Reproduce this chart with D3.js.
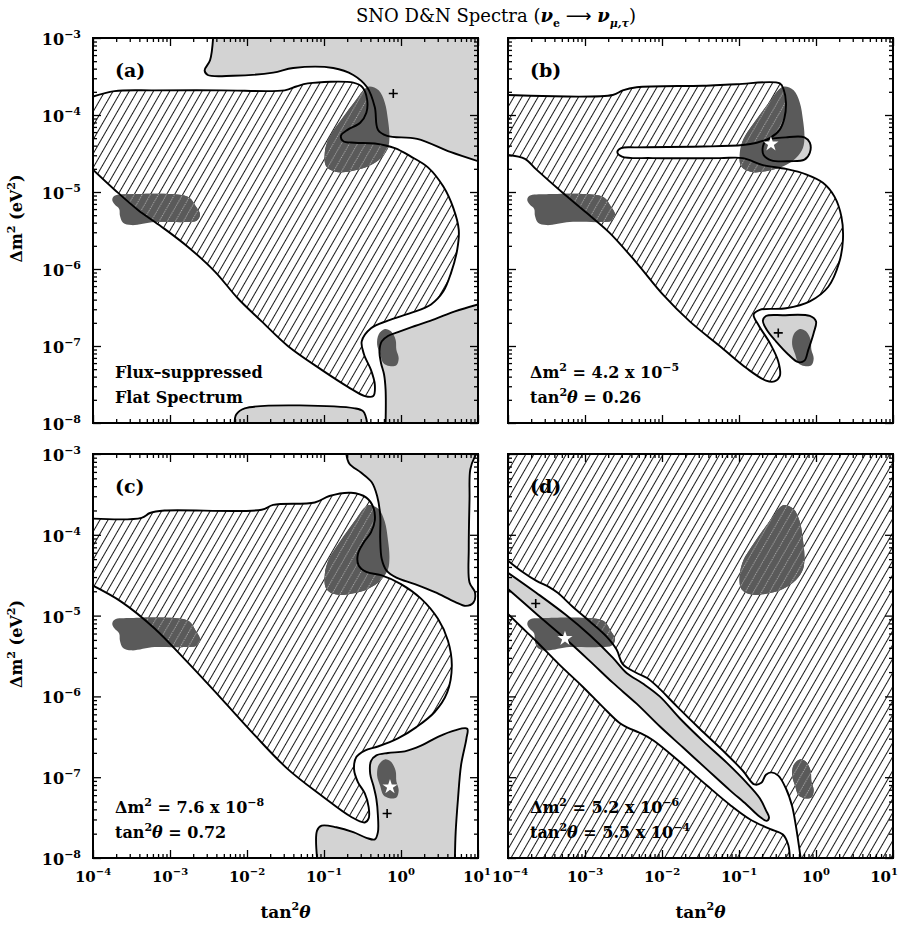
<!DOCTYPE html>
<html>
<head>
<meta charset="utf-8">
<script src="https://cdn.jsdelivr.net/npm/d3@7"></script>
<style>
  body { margin: 0; background: #fff; }
  text { font-family: "DejaVu Serif", serif; fill: #000; }
</style>
</head>
<body>
<svg id="chart" width="899" height="926"></svg>
<script>
// all contour points are [log10 tan^2(theta), log10 dm^2]
const xDecades = [-4, -3, -2, -1, 0, 1];
const yDecades = [-8, -7, -6, -5, -4, -3];

// dark regions (same in every panel)
const lmaBlob = [[-0.41,-3.63],[-0.29,-3.68],[-0.21,-3.84],[-0.17,-4.06],[-0.15,-4.28],[-0.17,-4.43],[-0.26,-4.56],[-0.43,-4.67],[-0.65,-4.73],[-0.84,-4.74],[-0.97,-4.67],[-0.99,-4.49],[-0.94,-4.31],[-0.84,-4.15],[-0.71,-3.97],[-0.58,-3.80],[-0.48,-3.67]];
const smaBlob = [[-3.72,-5.05],[-3.50,-5.03],[-2.85,-5.04],[-2.74,-5.08],[-2.67,-5.18],[-2.61,-5.29],[-2.65,-5.37],[-2.79,-5.39],[-3.20,-5.39],[-3.50,-5.43],[-3.61,-5.40],[-3.65,-5.31],[-3.66,-5.22],[-3.72,-5.16],[-3.75,-5.10]];
const lowBlob = [[-0.21,-6.78],[-0.13,-6.81],[-0.07,-6.92],[-0.06,-7.05],[-0.03,-7.16],[-0.06,-7.25],[-0.15,-7.26],[-0.23,-7.22],[-0.27,-7.11],[-0.31,-6.98],[-0.29,-6.85]];

// panel (a)
const hatchA = [[-4,-3.76],[-3.72,-3.69],[-3.20,-3.68],[-2.33,-3.68],[-1.51,-3.68],[-1.36,-3.63],[-1.21,-3.59],[-0.62,-3.58],[-0.50,-3.64],[-0.44,-3.80],[-0.45,-3.97],[-0.53,-4.10],[-0.69,-4.19],[-0.78,-4.27],[-0.75,-4.34],[-0.60,-4.36],[-0.34,-4.37],[-0.08,-4.43],[0.13,-4.54],[0.35,-4.68],[0.55,-4.93],[0.68,-5.21],[0.75,-5.49],[0.73,-5.75],[0.65,-6.05],[0.55,-6.29],[0.39,-6.46],[0.13,-6.57],[-0.17,-6.67],[-0.39,-6.77],[-0.51,-6.94],[-0.48,-7.11],[-0.39,-7.31],[-0.34,-7.50],[-0.36,-7.65],[-0.47,-7.65],[-0.69,-7.53],[-1.03,-7.31],[-1.47,-7.00],[-1.81,-6.68],[-2.12,-6.38],[-2.42,-6.03],[-2.77,-5.71],[-3.11,-5.45],[-3.42,-5.23],[-3.72,-4.97],[-4,-4.71]];
const grayTopA = [[-2.44,-3],[-2.48,-3.29],[-2.55,-3.42],[-2.51,-3.48],[-2.18,-3.49],[-1.66,-3.45],[-1.40,-3.39],[-0.88,-3.39],[-0.62,-3.48],[-0.44,-3.64],[-0.34,-3.90],[-0.30,-4.19],[-0.18,-4.27],[0.21,-4.31],[0.64,-4.48],[1,-4.6]];
const grayLowA = [[1,-6.46],[0.70,-6.55],[0.44,-6.65],[0.18,-6.74],[-0.04,-6.82],[-0.17,-6.87],[-0.25,-6.94],[-0.28,-7.07],[-0.26,-7.22],[-0.22,-7.37],[-0.20,-7.57],[-0.20,-8]];
const grayBotA = [[-2.16,-8],[-2.14,-7.89],[-2.03,-7.81],[-0.60,-7.81],[-0.49,-7.85],[-0.44,-8]];

// panel (b)
const hatchB = [[-4,-3.74],[-2.64,-3.74],[-2.51,-3.68],[-2.33,-3.64],[-1.47,-3.62],[-1.03,-3.60],[-0.47,-3.59],[-0.42,-3.67],[-0.39,-3.84],[-0.41,-4.04],[-0.47,-4.19],[-0.60,-4.30],[-0.77,-4.36],[-0.95,-4.39],[-1.47,-4.41],[-2.33,-4.42],[-2.53,-4.43],[-2.58,-4.48],[-2.52,-4.54],[-2.12,-4.56],[-1.25,-4.56],[-0.95,-4.56],[-0.69,-4.65],[-0.39,-4.70],[-0.13,-4.77],[0.09,-4.88],[0.24,-5.06],[0.33,-5.32],[0.35,-5.62],[0.30,-5.92],[0.16,-6.23],[-0.08,-6.42],[-0.39,-6.51],[-0.73,-6.53],[-0.81,-6.59],[-0.74,-6.74],[-0.60,-6.96],[-0.49,-7.20],[-0.47,-7.39],[-0.54,-7.46],[-0.65,-7.45],[-0.90,-7.29],[-1.25,-7.00],[-1.64,-6.68],[-1.99,-6.33],[-2.33,-5.92],[-2.68,-5.53],[-2.98,-5.27],[-3.29,-5.01],[-3.63,-4.71],[-3.78,-4.57],[-4,-4.52]];
const grayStarB = [[-0.65,-4.33],[-0.39,-4.29],[-0.15,-4.29],[-0.08,-4.36],[-0.08,-4.49],[-0.15,-4.58],[-0.34,-4.60],[-0.58,-4.59],[-0.68,-4.52],[-0.69,-4.41]];
const grayLowB = [[-0.65,-6.61],[-0.43,-6.60],[-0.08,-6.61],[0.00,-6.68],[-0.03,-6.83],[-0.10,-7.05],[-0.15,-7.19],[-0.23,-7.21],[-0.36,-7.11],[-0.52,-6.94],[-0.64,-6.79],[-0.69,-6.67]];

// panel (c)
const hatchC = [[-4,-3.80],[-3.37,-3.79],[-3.26,-3.73],[-3.07,-3.70],[-1.81,-3.69],[-1.66,-3.63],[-1.12,-3.60],[-0.93,-3.52],[-0.65,-3.48],[-0.45,-3.54],[-0.36,-3.66],[-0.34,-3.82],[-0.39,-3.97],[-0.48,-4.09],[-0.56,-4.24],[-0.55,-4.38],[-0.45,-4.46],[-0.26,-4.50],[0.00,-4.61],[0.26,-4.79],[0.48,-5.04],[0.61,-5.31],[0.66,-5.62],[0.60,-5.95],[0.44,-6.19],[0.20,-6.38],[-0.04,-6.52],[-0.30,-6.62],[-0.47,-6.67],[-0.58,-6.75],[-0.61,-6.90],[-0.56,-7.06],[-0.47,-7.20],[-0.42,-7.37],[-0.42,-7.51],[-0.47,-7.56],[-0.65,-7.49],[-1.03,-7.23],[-1.47,-6.90],[-1.90,-6.48],[-2.33,-6.03],[-2.77,-5.58],[-3.20,-5.16],[-3.63,-4.83],[-4,-4.63]];
const grayTopC = [[-0.71,-3],[-0.67,-3.12],[-0.52,-3.23],[-0.38,-3.35],[-0.31,-3.52],[-0.27,-3.76],[-0.27,-4.05],[-0.25,-4.30],[-0.19,-4.44],[-0.06,-4.53],[0.18,-4.61],[0.44,-4.71],[0.70,-4.83],[0.84,-4.88],[0.94,-4.84],[0.96,-4.71],[0.89,-4.59],[0.88,-4.17],[0.89,-3.56],[0.90,-3.19],[0.96,-3.03],[0.98,-3]];
const grayLowC = [[0.70,-8],[0.71,-7.68],[0.74,-7.27],[0.78,-6.85],[0.85,-6.52],[0.86,-6.40],[0.70,-6.42],[0.48,-6.50],[0.26,-6.61],[0.05,-6.68],[-0.17,-6.70],[-0.32,-6.73],[-0.39,-6.80],[-0.40,-6.96],[-0.36,-7.10],[-0.32,-7.27],[-0.30,-7.47],[-0.30,-7.68],[-0.34,-7.77],[-0.45,-7.75],[-0.62,-7.68],[-0.84,-7.62],[-1.03,-7.60],[-1.09,-7.66],[-1.09,-8]];

// panel (d)
const outerUpperD = [[-4,-4.32],[-3.81,-4.46],[-3.63,-4.57],[-3.46,-4.65],[-3.35,-4.72],[-3.16,-4.89],[-2.94,-5.07],[-2.72,-5.26],[-2.59,-5.42],[-2.51,-5.60],[-2.33,-5.71],[-2.20,-5.77],[-2.07,-5.87],[-1.81,-6.12],[-1.51,-6.40],[-1.21,-6.67],[-0.95,-6.92],[-0.80,-7.09],[-0.71,-7.07],[-0.65,-6.97],[-0.58,-6.94],[-0.49,-6.98],[-0.39,-7.14],[-0.31,-7.36],[-0.26,-7.61],[-0.22,-7.86],[-0.20,-8]];
const outerLowerD = [[-0.34,-8],[-0.36,-7.84],[-0.43,-7.71],[-0.60,-7.64],[-0.86,-7.52],[-1.12,-7.34],[-1.42,-7.10],[-1.77,-6.81],[-2.12,-6.54],[-2.29,-6.45],[-2.44,-6.39],[-2.55,-6.33],[-2.77,-6.13],[-3.03,-5.88],[-3.33,-5.61],[-3.63,-5.32],[-3.85,-5.12],[-4,-4.98]];
const grayBandD = [[-4,-4.47],[-3.63,-4.72],[-3.25,-4.99],[-2.94,-5.24],[-2.64,-5.52],[-2.46,-5.71],[-2.25,-5.84],[-2.03,-6.00],[-1.77,-6.27],[-1.47,-6.55],[-1.16,-6.82],[-0.90,-7.07],[-0.73,-7.26],[-0.65,-7.41],[-0.61,-7.50],[-0.64,-7.54],[-0.73,-7.49],[-0.90,-7.34],[-1.12,-7.16],[-1.42,-6.90],[-1.73,-6.63],[-2.03,-6.37],[-2.33,-6.09],[-2.64,-5.83],[-2.94,-5.56],[-3.25,-5.29],[-3.63,-4.98],[-4,-4.67]];

// best fit points (stars) and secondary minima (crosses)
const stars = { b: [-0.585, -4.377], c: [-0.143, -7.119], d: [-3.26, -5.284] };
const crosses = { a: [-0.10, -3.72], b: [-0.49, -6.83], c: [-0.18, -7.45], d: [-3.64, -4.85] };

const panelLabels = { a: "(a)", b: "(b)", c: "(c)", d: "(d)" };
const fitText = {
  a: [[["Flux–suppressed"]], [["Flat Spectrum"]]],
  b: [[["Δm"], ["2", "sup"], [" = 4.2 x 10"], ["−5", "sup"]], [["tan"], ["2", "sup"], ["θ", "it"], [" = 0.26"]]],
  c: [[["Δm"], ["2", "sup"], [" = 7.6 x 10"], ["−8", "sup"]], [["tan"], ["2", "sup"], ["θ", "it"], [" = 0.72"]]],
  d: [[["Δm"], ["2", "sup"], [" = 5.2 x 10"], ["−6", "sup"]], [["tan"], ["2", "sup"], ["θ", "it"], [" = 5.5 x 10"], ["−4", "sup"]]]
};

const layout = [
  { id: "a", x0: 93,  y0: 38,  w: 385, h: 385, yLab: true,  xLab: false },
  { id: "b", x0: 508, y0: 38,  w: 385, h: 385, yLab: false, xLab: false },
  { id: "c", x0: 93,  y0: 454, w: 385, h: 404, yLab: true,  xLab: true },
  { id: "d", x0: 508, y0: 454, w: 385, h: 404, yLab: false, xLab: true }
];

const svg = d3.select("#chart");
const defs = svg.append("defs");

function hatchPattern(id, color, dash) {
  const p = defs.append("pattern").attr("id", id)
    .attr("patternUnits", "userSpaceOnUse")
    .attr("width", 7).attr("height", 7)
    .attr("patternTransform", "rotate(30)");
  p.append("line").attr("x1", 3.5).attr("y1", 0).attr("x2", 3.5).attr("y2", 7)
    .attr("stroke", color).attr("stroke-width", 0.9)
    .attr("stroke-dasharray", dash);
}
hatchPattern("hatch", "#000", null);
hatchPattern("hatchLight", "#b8b8b8", "1.1667,1.1667");

const LIGHT = "#d3d3d3", DARK = "#5a5a5a";

// text with superscripts: parts = [[string, kind]]
function richText(sel, parts, size, supSize) {
  let shift = 0;
  parts.forEach(([s, kind]) => {
    const t = sel.append("tspan").text(s);
    if (kind === "sup") {
      t.attr("font-size", supSize).attr("dy", -size * 0.45 - shift);
      shift = -size * 0.45;
    } else {
      if (kind === "it") t.attr("font-style", "italic");
      t.attr("dy", -shift);
      shift = 0;
    }
  });
}

function drawPanel(L) {
  const x = d3.scaleLog().domain([1e-4, 10]).range([L.x0, L.x0 + L.w]);
  const y = d3.scaleLog().domain([1e-8, 1e-3]).range([L.y0 + L.h, L.y0]);
  const P = p => [x(10 ** p[0]), y(10 ** p[1])];
  const open = pts => d3.line().curve(d3.curveCatmullRom.alpha(0.5))(pts.map(P));
  const loop = pts => d3.line().curve(d3.curveCatmullRomClosed.alpha(0.5))(pts.map(P));
  const region = (pts, corners = []) =>
    open(pts) + corners.map(c => "L" + P(c).join(",")).join("") + "Z";

  defs.append("clipPath").attr("id", "clip-" + L.id)
    .append("rect").attr("x", L.x0).attr("y", L.y0).attr("width", L.w).attr("height", L.h);
  const blobClip = defs.append("clipPath").attr("id", "blobs-" + L.id);
  [lmaBlob, smaBlob, lowBlob].forEach(b => blobClip.append("path").attr("d", loop(b)));

  const g = svg.append("g").attr("clip-path", `url(#clip-${L.id})`);

  // light grey allowed regions: [fill path, outline path]
  let grays = [], hatchD, outlines = [], hatchRule = "nonzero";
  if (L.id === "a") {
    grays = [
      [region(grayTopA, [[1, -3]]), open(grayTopA)],
      [region(grayLowA, [[1, -8]]), open(grayLowA)],
      [region(grayBotA), open(grayBotA)]
    ];
    hatchD = region(hatchA); outlines = [open(hatchA)];
  } else if (L.id === "b") {
    grays = [[loop(grayStarB), loop(grayStarB)], [loop(grayLowB), loop(grayLowB)]];
    hatchD = region(hatchB); outlines = [open(hatchB)];
  } else if (L.id === "c") {
    grays = [[region(grayTopC), open(grayTopC)], [region(grayLowC), open(grayLowC)]];
    hatchD = region(hatchC); outlines = [open(hatchC)];
  } else {
    grays = [[region(grayBandD), open(grayBandD)]];
    const band = open(outerUpperD) + "L" + open(outerLowerD).slice(1) + "Z";
    hatchD = `M${L.x0},${L.y0}H${L.x0 + L.w}V${L.y0 + L.h}H${L.x0}Z` + band;
    hatchRule = "evenodd";
    outlines = [open(outerUpperD), open(outerLowerD)];
  }

  grays.forEach(([f]) => g.append("path").attr("d", f).attr("fill", LIGHT));
  [lmaBlob, smaBlob, lowBlob].forEach(b =>
    g.append("path").attr("d", loop(b)).attr("fill", DARK));
  g.append("path").attr("d", hatchD).attr("fill", "url(#hatch)").attr("fill-rule", hatchRule);
  g.append("g").attr("clip-path", `url(#blobs-${L.id})`)
    .append("path").attr("d", hatchD).attr("fill", DARK).attr("fill-rule", hatchRule);
  g.append("g").attr("clip-path", `url(#blobs-${L.id})`)
    .append("path").attr("d", hatchD).attr("fill", "url(#hatchLight)").attr("fill-rule", hatchRule);

  outlines.concat(grays.map(d => d[1])).forEach(d =>
    g.append("path").attr("d", d).attr("fill", "none")
      .attr("stroke", "#000").attr("stroke-width", 1.9).attr("stroke-linejoin", "round"));

  if (crosses[L.id]) {
    const [cx, cy] = P(crosses[L.id]);
    g.append("path").attr("d", `M${cx - 4.5},${cy}H${cx + 4.5}M${cx},${cy - 4.5}V${cy + 4.5}`)
      .attr("stroke", "#000").attr("stroke-width", 1.6);
  }
  if (stars[L.id]) {
    const [sx, sy] = P(stars[L.id]);
    g.append("path").attr("d", d3.symbol(d3.symbolStar, 70)())
      .attr("transform", `translate(${sx},${sy})`).attr("fill", "#fff");
  }

  // ticks on all four sides, pointing inward
  const xMaj = xDecades.map(e => 10 ** e);
  const yMaj = yDecades.map(e => 10 ** e);
  const xMin = [], yMin = [];
  xDecades.slice(0, -1).forEach(e => d3.range(2, 10).forEach(m => xMin.push(m * 10 ** e)));
  yDecades.slice(0, -1).forEach(e => d3.range(2, 10).forEach(m => yMin.push(m * 10 ** e)));
  const axes = [
    [d3.axisBottom(x), `translate(0,${L.y0 + L.h})`, xMaj, xMin],
    [d3.axisTop(x), `translate(0,${L.y0})`, xMaj, xMin],
    [d3.axisLeft(y), `translate(${L.x0},0)`, yMaj, yMin],
    [d3.axisRight(y), `translate(${L.x0 + L.w},0)`, yMaj, yMin]
  ];
  axes.forEach(([ax, tr, maj, min]) => {
    [[maj, -8], [min, -4]].forEach(([vals, size]) => {
      const a = svg.append("g").attr("transform", tr)
        .call(ax.tickValues(vals).tickSize(size).tickFormat(""));
      a.select(".domain").remove();
      a.selectAll("line").attr("stroke", "#000").attr("stroke-width", 1.3);
    });
  });

  svg.append("rect").attr("x", L.x0).attr("y", L.y0).attr("width", L.w).attr("height", L.h)
    .attr("fill", "none").attr("stroke", "#000").attr("stroke-width", 2);

  if (L.yLab) {
    yDecades.forEach(e => {
      const t = svg.append("text").attr("x", 81).attr("y", y(10 ** e) + 7)
        .attr("text-anchor", "end").attr("font-size", 16).attr("font-weight", "bold");
      richText(t, [["10"], ["−" + (-e), "sup"]], 16, 11);
    });
    const t = svg.append("text")
      .attr("transform", `translate(22,${L.y0 + L.h / 2 - 12}) rotate(-90)`)
      .attr("text-anchor", "middle").attr("font-size", 16).attr("font-weight", "bold");
    richText(t, [["Δm"], ["2", "sup"], [" (eV"], ["2", "sup"], [")"]], 16, 11);
  }
  if (L.xLab) {
    xDecades.forEach((e, i) => {
      const t = svg.append("text").attr("y", L.y0 + L.h + 24)
        .attr("font-size", 15).attr("font-weight", "bold");
      // keep the neighbouring panels' end labels apart and inside the page
      if (i === xDecades.length - 1 && L.id === "d") t.attr("x", 898).attr("text-anchor", "end");
      else if (i === xDecades.length - 1) t.attr("x", x(10 ** e) - 1).attr("text-anchor", "middle");
      else if (i === 0 && L.id === "d") t.attr("x", x(10 ** e) + 2).attr("text-anchor", "middle");
      else t.attr("x", x(10 ** e)).attr("text-anchor", "middle");
      richText(t, [["10"], [e < 0 ? "−" + (-e) : String(e), "sup"]], 15, 10);
    });
    const t = svg.append("text").attr("x", L.x0 + L.w / 2).attr("y", 918)
      .attr("text-anchor", "middle").attr("font-size", 17).attr("font-weight", "bold");
    richText(t, [["tan"], ["2", "sup"], ["θ", "it"]], 17, 11);
  }

  svg.append("text").attr("x", L.x0 + 22).attr("y", L.y0 + 39)
    .attr("font-size", 19).attr("font-weight", "bold").text(panelLabels[L.id]);

  fitText[L.id].forEach((parts, i) => {
    const t = svg.append("text").attr("x", L.x0 + 22).attr("y", L.y0 + L.h - 45 + i * 25)
      .attr("font-size", 16).attr("font-weight", "bold");
    richText(t, parts, 16, 11);
  });
}

layout.forEach(drawPanel);

// title
const title = svg.append("text").attr("x", 496).attr("y", 22)
  .attr("text-anchor", "middle").attr("font-size", 18);
title.append("tspan").text("SNO D&N Spectra (");
title.append("tspan").attr("font-style", "italic").attr("font-weight", "bold").text("ν");
title.append("tspan").attr("font-size", 11).attr("dy", 5).attr("font-weight", "bold").text("e");
title.append("tspan").attr("dy", -5).attr("font-family", "DejaVu Sans").text(" ⟶ ");
title.append("tspan").attr("font-style", "italic").attr("font-weight", "bold").text("ν");
title.append("tspan").attr("font-size", 11).attr("dy", 5).attr("font-weight", "bold")
  .attr("font-style", "italic").text("μ,τ");
title.append("tspan").attr("dy", -5).text(")");
</script>
</body>
</html>
